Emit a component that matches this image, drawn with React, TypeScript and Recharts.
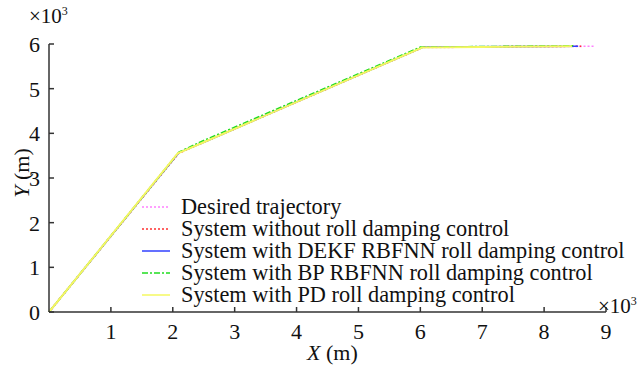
import { LineChart, Line, XAxis, YAxis } from "recharts";

// trajectory points (units of 10^3 m)
const desiredX = [0, 2.08, 6.03, 8.8];
const desiredY = [0, 3.55, 5.92, 5.95];
const withoutX = [0, 2.1, 2.5, 6.05, 8.6];
const withoutY = [0, 3.56, 3.8, 5.93, 5.95];
const dekfX = [0, 2.1, 2.55, 6.05, 8.55];
const dekfY = [0, 3.57, 3.83, 5.93, 5.95];
const bpX = [0, 2.1, 2.5, 6.0, 8.5];
const bpY = [0, 3.58, 3.84, 5.93, 5.96];
const pdX = [0, 2.08, 2.5, 6.03, 8.45];
const pdY = [0, 3.55, 3.8, 5.92, 5.95];

const xTicks = [1, 2, 3, 4, 5, 6, 7, 8, 9];
const yTicks = [0, 1, 2, 3, 4, 5, 6];

const series = [
  { name: "Desired trajectory", xs: desiredX, ys: desiredY, color: "#ff80ff", dash: "2 2", w: 1.6 },
  { name: "System without roll damping control", xs: withoutX, ys: withoutY, color: "#ff3030", dash: "2 2", w: 1.6 },
  { name: "System with DEKF RBFNN roll damping control", xs: dekfX, ys: dekfY, color: "#3040ff", dash: "", w: 1.6 },
  { name: "System with BP RBFNN roll damping control", xs: bpX, ys: bpY, color: "#20dd20", dash: "6 2 2 2", w: 1.6 },
  { name: "System with PD roll damping control", xs: pdX, ys: pdY, color: "#f4f860", dash: "", w: 2 },
];

const toPoints = (xs: number[], ys: number[]) => xs.map((x, i) => ({ x, y: ys[i] }));

const font = "'Liberation Serif', 'Times New Roman', serif";

const XTick = (props: any) => {
  const { x, y, payload } = props;
  return (
    <g>
      <line x1={x} y1={y} x2={x} y2={y - 5} stroke="#333" strokeWidth={1.5} />
      <text x={x} y={y + 27} textAnchor="middle" fontSize={22} fontFamily={font} fill="#111">
        {payload.value}
      </text>
    </g>
  );
};

const YTick = (props: any) => {
  const { x, y, payload } = props;
  return (
    <g>
      <line x1={x} y1={y} x2={x + 5} y2={y} stroke="#333" strokeWidth={1.5} />
      <text x={x - 9} y={y + 8} textAnchor="end" fontSize={22} fontFamily={font} fill="#111">
        {payload.value}
      </text>
    </g>
  );
};

const LegendBox = () => (
  <div style={{ fontFamily: font, fontSize: 22.3, color: "#111", lineHeight: "22px" }}>
    {series.map((s) => (
      <div key={s.name} style={{ display: "flex", alignItems: "center", whiteSpace: "nowrap", height: 22 }}>
        <svg width={40} height={22}>
          <line x1={1} y1={11} x2={29} y2={11} stroke={s.color} strokeWidth={1.5} strokeDasharray={s.dash} />
        </svg>
        <span>{s.name}</span>
      </div>
    ))}
  </div>
);

export default function App() {
  return (
    <div style={{ position: "absolute", left: 0, top: 0, width: 643, height: 369, background: "#fff" }}>
      <LineChart width={643} height={369} margin={{ top: 44, right: 37, bottom: 0, left: 0 }}>
        <XAxis
          type="number"
          dataKey="x"
          domain={[0, 9]}
          ticks={xTicks}
          tickSize={0}
          tickMargin={0}
          tick={<XTick />}
          height={57}
          stroke="#333"
          strokeWidth={1.5}
          allowDuplicatedCategory={false}
        />
        <YAxis
          type="number"
          dataKey="y"
          domain={[0, 6]}
          ticks={yTicks}
          tickSize={0}
          tickMargin={0}
          tick={<YTick />}
          width={49}
          stroke="#333"
          strokeWidth={1.5}
        />
        {series.map((s) => (
          <Line
            key={s.name}
            data={toPoints(s.xs, s.ys)}
            dataKey="y"
            name={s.name}
            stroke={s.color}
            strokeWidth={s.w}
            strokeDasharray={s.dash}
            dot={false}
            isAnimationActive={false}
          />
        ))}
      </LineChart>
      <div style={{ position: "absolute", left: 141, top: 196 }}>
        <LegendBox />
      </div>
      <div style={{ position: "absolute", left: 29, top: 4, fontFamily: font, fontSize: 21, color: "#111" }}>
        ×10<sup style={{ fontSize: 12 }}>3</sup>
      </div>
      <div style={{ position: "absolute", left: 598, top: 294, fontFamily: font, fontSize: 21, color: "#111" }}>
        ×10<sup style={{ fontSize: 12 }}>3</sup>
      </div>
      <div style={{ position: "absolute", left: 307, top: 340, fontFamily: font, fontSize: 22, color: "#111" }}>
        <i>X</i> (m)
      </div>
      <div
        style={{
          position: "absolute",
          left: 22,
          top: 173,
          fontFamily: font,
          fontSize: 22,
          color: "#111",
          transform: "translate(-50%, -50%) rotate(-90deg)",
          whiteSpace: "nowrap",
        }}
      >
        <i>Y</i> (m)
      </div>
    </div>
  );
}
